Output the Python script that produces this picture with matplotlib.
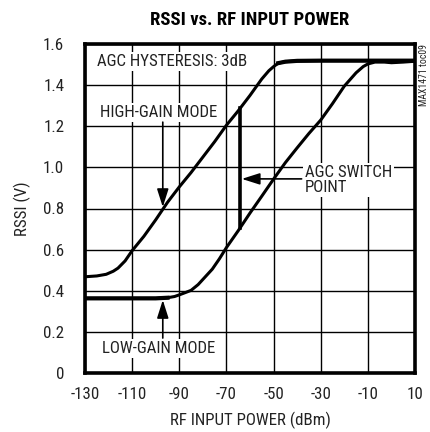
"""
RSSI vs. RF input power, high-gain and low-gain AGC modes with the switch point.
"""
import numpy as np
import matplotlib
matplotlib.use('Agg')
import matplotlib.pyplot as plt
from matplotlib import font_manager

# high-gain mode trace (dBm, V)
high_gain_dbm = [-130, -125, -121, -118, -116, -113, -110, -105, -100, -95, -90, -85, -80,
                 -75, -70, -65, -60, -55, -52, -50, -48, -45, -40, -30, -20, -10, 0, 10]
high_gain_v = [0.468, 0.472, 0.48, 0.495, 0.51, 0.545, 0.595, 0.665, 0.745, 0.83, 0.905, 0.975, 1.05,
               1.125, 1.205, 1.275, 1.35, 1.43, 1.47, 1.49, 1.507, 1.514, 1.518, 1.519, 1.519, 1.519, 1.519, 1.519]

# low-gain mode trace (dBm, V)
low_gain_dbm = [-130, -115, -100, -95, -92, -90, -87, -85, -82, -80, -76, -73, -70, -65, -60, -55,
                -50, -45, -40, -35, -30, -25, -20, -15, -12, -10, -7, -3, 0, 5, 10]
low_gain_v = [0.363, 0.363, 0.363, 0.366, 0.372, 0.38, 0.393, 0.402, 0.43, 0.455, 0.505, 0.555, 0.61,
              0.692, 0.778, 0.86, 0.943, 1.023, 1.095, 1.165, 1.23, 1.31, 1.395, 1.46, 1.49, 1.503,
              1.512, 1.512, 1.509, 1.512, 1.516]

switch_dbm = -64.2
x_ticks = [-130, -110, -90, -70, -50, -30, -10, 10]
y_ticks = [0, 0.2, 0.4, 0.6, 0.8, 1.0, 1.2, 1.4, 1.6]
y_tick_labels = ['0', '0.2', '0.4', '0.6', '0.8', '1.0', '1.2', '1.4', '1.6']

# pick a narrow face if one is installed, the datasheet uses a condensed sans
names = {f.name for f in font_manager.fontManager.ttflist}
narrow = [n for n in ('Liberation Sans Narrow', 'DejaVu Sans Condensed', 'Roboto Condensed',
                      'Open Sans Condensed') if n in names]
if narrow:
    FONT = [narrow[0], 'DejaVu Sans']
    FS = 12.2
else:
    FONT = ['Liberation Sans', 'DejaVu Sans']
    FS = 10.5
plt.rcParams['font.family'] = FONT
plt.rcParams['axes.unicode_minus'] = False
TXT = '#222222'

fig = plt.figure(figsize=(4.3, 4.32), dpi=100)
ax = fig.add_axes([85 / 430, 1 - 373 / 432, 330 / 430, 329 / 432])

# traces
ax.plot(high_gain_dbm, high_gain_v, color='black', linewidth=2.2, solid_capstyle='butt', zorder=4)
ax.plot(low_gain_dbm, low_gain_v, color='black', linewidth=2.2, solid_capstyle='butt', zorder=4)
hx = np.array(high_gain_dbm)
lx = np.array(low_gain_dbm)
ax.plot(hx[hx >= -48], np.array(high_gain_v)[hx >= -48], color='black', linewidth=3, zorder=4)
ax.plot(lx[lx <= -95], np.array(low_gain_v)[lx <= -95], color='black', linewidth=3, zorder=4)

# switch point
v_low = np.interp(switch_dbm, low_gain_dbm, low_gain_v)
v_high = np.interp(switch_dbm, high_gain_dbm, high_gain_v)
ax.plot([switch_dbm, switch_dbm], [v_low, v_high], color='black', linewidth=2.6, zorder=4)

ax.set_xlim(-130, 10)
ax.set_ylim(0, 1.6)
ax.set_xticks(x_ticks)
ax.set_yticks(y_ticks)
ax.set_yticklabels(y_tick_labels)
ax.tick_params(length=0, labelsize=FS, colors=TXT, pad=10)
ax.tick_params(axis='y', pad=15)
ax.grid(True, color='black', linewidth=1.0, zorder=1)
ax.set_axisbelow(True)
for s in ax.spines.values():
    s.set_linewidth(2.6)
    s.set_zorder(6)

box = dict(facecolor='white', edgecolor='none', pad=1.5)
arrow = dict(arrowstyle='-|>,head_length=1.1,head_width=0.35', color='black', linewidth=1.2,
             shrinkA=0, shrinkB=0)

ax.text(-125, 1.515, 'AGC HYSTERESIS: 3dB', fontsize=FS, color=TXT, va='center', ha='left',
        bbox=box, zorder=5)

ax.text(-123.5, 1.266, 'HIGH-GAIN MODE', fontsize=FS, color=TXT, va='center', ha='left',
        bbox=box, zorder=5)
ax.annotate('', xy=(-97, 0.807), xytext=(-97, 1.22), arrowprops=arrow, zorder=5)

ax.text(-122.7, 0.12, 'LOW-GAIN MODE', fontsize=FS, color=TXT, va='center', ha='left',
        bbox=box, zorder=5)
ax.annotate('', xy=(-97, 0.355), xytext=(-97, 0.17), arrowprops=arrow, zorder=5)

ax.text(-36.6, 0.94, 'AGC SWITCH\nPOINT', fontsize=FS, color=TXT, va='center', ha='left',
        linespacing=1.0, bbox=box, zorder=5)
ax.annotate('', xy=(-63.5, 0.944), xytext=(-38.1, 0.944), arrowprops=arrow, zorder=5)

ax.set_xlabel('RF INPUT POWER (dBm)', fontsize=FS, color=TXT, labelpad=7)
ax.set_ylabel('RSSI (V)', fontsize=FS, color=TXT, labelpad=9)

fig.text(0.58, 1 - 20 / 432, 'RSSI vs. RF INPUT POWER', fontsize=13.5, fontweight='bold',
         ha='center', va='center', color='black')
fig.text(424 / 430, 1 - 44 / 432, 'MAX1471 toc09', fontsize=7, rotation=90, ha='center', va='top',
         color=TXT)

fig.savefig('out.png', dpi=100)
